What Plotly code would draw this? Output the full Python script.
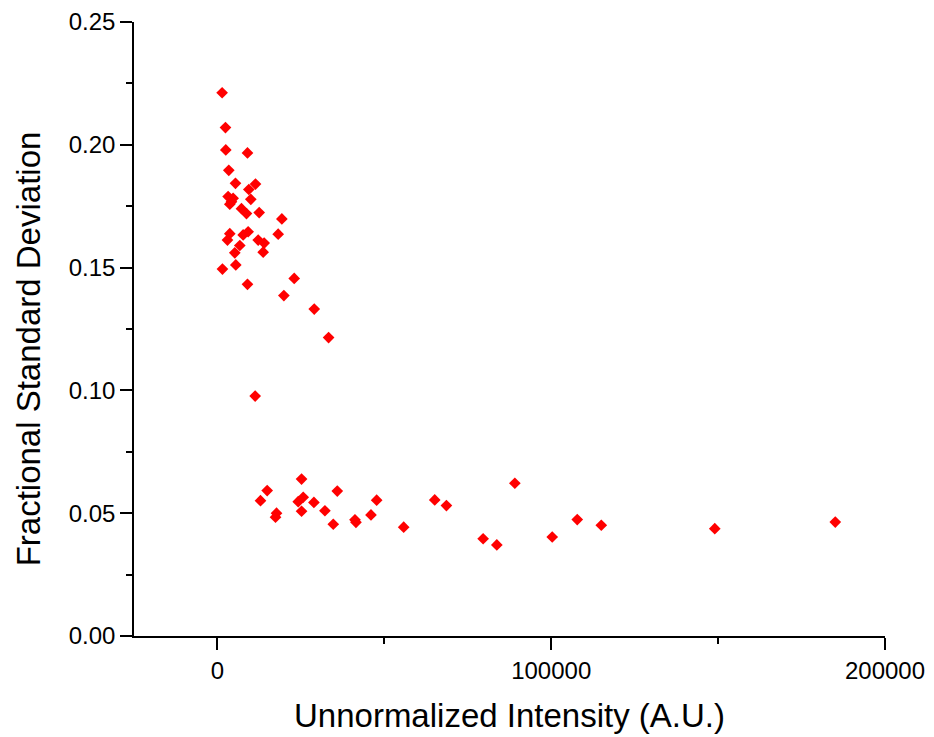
import plotly.graph_objects as go

intensity = [1400, 2400, 2500, 9000, 3400, 5400, 11400, 9400, 10000, 3200,
             4700, 3700, 4200, 7200, 8700, 12500, 19300, 3700, 3000, 7700,
             9200, 18200, 12200, 14000, 6700, 5200, 13700, 5500, 1500, 9000,
             23000, 19900, 29000, 33300, 11300, 14900, 12900, 17700, 17400, 25200,
             25700, 24200, 25200, 28900, 32200, 35900, 34700, 41200, 41500, 46000,
             47700, 55800, 65100, 68600, 89100, 79600, 83700, 100300, 107800, 115000,
             149000, 185100]
frac_sd = [0.2212, 0.2070, 0.1979, 0.1967, 0.1896, 0.1843, 0.1840, 0.1818, 0.1778, 0.1789,
           0.1782, 0.1758, 0.1768, 0.1740, 0.1720, 0.1724, 0.1698, 0.1638, 0.1612, 0.1633,
           0.1646, 0.1636, 0.1612, 0.1600, 0.1590, 0.1560, 0.1563, 0.1511, 0.1494, 0.1432,
           0.1456, 0.1386, 0.1331, 0.1215, 0.0977, 0.0592, 0.0551, 0.0500, 0.0484, 0.0639,
           0.0565, 0.0547, 0.0508, 0.0544, 0.0510, 0.0590, 0.0455, 0.0473, 0.0463, 0.0493,
           0.0553, 0.0443, 0.0554, 0.0531, 0.0622, 0.0396, 0.0371, 0.0403, 0.0474, 0.0451,
           0.0437, 0.0464]

x_ticks = [0, 100000, 200000]
y_ticks = [0.00, 0.05, 0.10, 0.15, 0.20, 0.25]

FONT = "Liberation Sans, Arial, sans-serif"

fig = go.Figure(go.Scatter(
    x=intensity, y=frac_sd, mode="markers",
    marker=dict(symbol="diamond", size=9, color="#ff0000", line=dict(width=0)),
    showlegend=False,
))

fig.update_layout(
    width=934, height=737,
    margin=dict(l=126, r=57, t=14, b=109),
    paper_bgcolor="white", plot_bgcolor="white",
    font=dict(family=FONT, color="black"),
    annotations=[dict(
        text="Fractional Standard Deviation", textangle=-90,
        xref="paper", yref="paper", x=-0.141, y=0.467,
        xanchor="center", yanchor="middle", showarrow=False,
        font=dict(size=33, family=FONT, color="black"),
    )],
)

fig.update_xaxes(
    range=[-25000, 200000], tickvals=x_ticks, tickformat="d",
    showgrid=False, zeroline=False,
    showline=True, linecolor="black", linewidth=1.5,
    ticks="outside", ticklen=12, tickwidth=1.5, tickcolor="black",
    tickfont=dict(size=24, family=FONT),
    minor=dict(ticks="outside", ticklen=6, tickwidth=1.5, tickcolor="black",
               tick0=0, dtick=50000, showgrid=False),
    title=dict(text="Unnormalized Intensity (A.U.)", font=dict(size=33, family=FONT), standoff=21),
    automargin=False,
)
fig.update_yaxes(
    range=[0, 0.25], tickvals=y_ticks, tickformat=".2f",
    showgrid=False, zeroline=False,
    showline=True, linecolor="black", linewidth=1.5,
    ticks="outside", ticklen=12, tickwidth=1.5, tickcolor="black",
    tickfont=dict(size=24, family=FONT),
    minor=dict(ticks="outside", ticklen=6, tickwidth=1.5, tickcolor="black",
               tick0=0, dtick=0.025, showgrid=False),
    automargin=False,
)

fig.write_html("out.html")
